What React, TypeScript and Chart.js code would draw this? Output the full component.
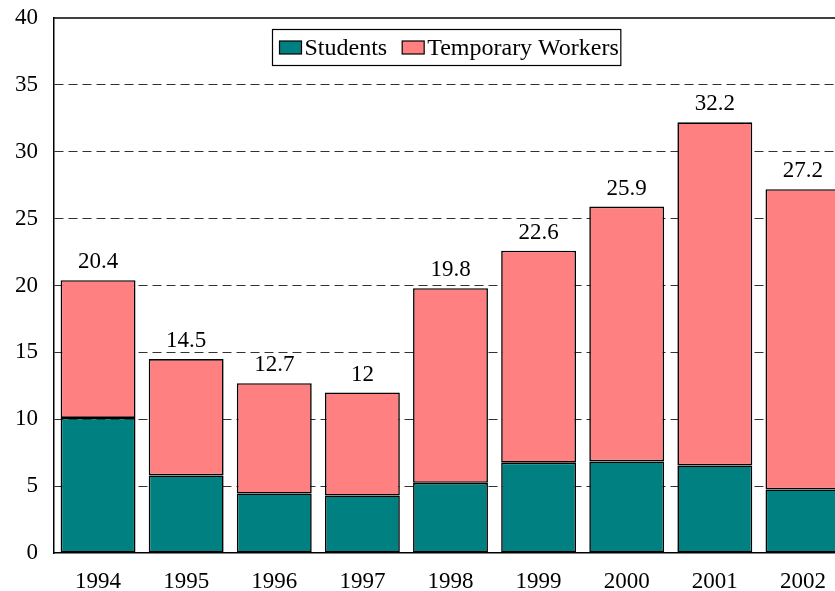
import React, { useEffect, useRef } from "react";
import { Chart, registerables } from "chart.js";

Chart.register(...registerables);

const years = ["1994", "1995", "1996", "1997", "1998", "1999", "2000", "2001", "2002"];
const totals = [20.4, 14.5, 12.7, 12, 19.8, 22.6, 25.9, 32.2, 27.2];
const students = [10.1, 5.8, 4.45, 4.3, 5.25, 6.75, 6.85, 6.55, 4.75];
const temporaryWorkers = totals.map((t, i) => Math.round((t - students[i]) * 100) / 100);
const yTicks = [0, 5, 10, 15, 20, 25, 30, 35, 40];

const FONT = "'Liberation Serif', 'Times New Roman', serif";
const FS = 23;
const LFS = 24;

const overlayPlugin = {
  id: "overlay",
  afterDatasetsDraw(chart: any) {
    const { ctx, chartArea } = chart;
    ctx.save();
    // top border
    ctx.strokeStyle = "#000";
    ctx.lineWidth = 1.5;
    ctx.beginPath();
    ctx.moveTo(chartArea.left, chartArea.top);
    ctx.lineTo(chartArea.right, chartArea.top);
    ctx.stroke();

    // total labels
    const lastMeta = chart.getDatasetMeta(chart.data.datasets.length - 1);
    ctx.font = `${FS}px ${FONT}`;
    ctx.fillStyle = "#000";
    ctx.textAlign = "center";
    ctx.textBaseline = "alphabetic";
    lastMeta.data.forEach((el: any, i: number) => {
      const sum = chart.data.datasets.reduce((s: number, d: any) => s + d.data[i], 0);
      const txt = String(Math.round(sum * 10) / 10);
      ctx.fillText(txt, el.x, el.y - 12);
    });

    // legend
    const items = chart.data.datasets.map((d: any) => ({ label: d.label, color: d.backgroundColor }));
    ctx.font = `${LFS}px ${FONT}`;
    const swW = 22, swH = 13, gapSw = 3, gapItem = 15, padL = 7, padR = 2;
    let width = padL + padR;
    items.forEach((it: any, i: number) => {
      width += swW + gapSw + ctx.measureText(it.label).width + (i < items.length - 1 ? gapItem : 0);
    });
    const boxH = 36;
    const cx = (chartArea.left + chartArea.right) / 2 - 4;
    const bx = Math.round(cx - width / 2) + 0.5;
    const by = chartArea.top + 11.5;
    ctx.fillStyle = "#fff";
    ctx.fillRect(bx, by, width, boxH);
    ctx.strokeStyle = "#000";
    ctx.lineWidth = 1.2;
    ctx.strokeRect(bx, by, width, boxH);
    let x = bx + padL;
    const midY = by + boxH / 2;
    items.forEach((it: any) => {
      ctx.fillStyle = it.color;
      ctx.fillRect(x, midY - swH / 2, swW, swH);
      ctx.strokeStyle = "#000";
      ctx.strokeRect(x, midY - swH / 2, swW, swH);
      x += swW + gapSw;
      ctx.fillStyle = "#000";
      ctx.textAlign = "left";
      ctx.textBaseline = "middle";
      ctx.fillText(it.label, x, midY + 1);
      x += ctx.measureText(it.label).width + gapItem;
    });
    ctx.restore();
  },
};

export default function App() {
  const ref = useRef<HTMLCanvasElement | null>(null);
  useEffect(() => {
    if (!ref.current) return;
    const chart = new Chart(ref.current, {
      type: "bar",
      data: {
        labels: years,
        datasets: [
          {
            label: "Students",
            data: students,
            backgroundColor: "#008080",
            borderColor: "#000",
            borderWidth: 1.6,
            borderSkipped: false,
          },
          {
            label: "Temporary Workers",
            data: temporaryWorkers,
            backgroundColor: "#FF8080",
            borderColor: "#000",
            borderWidth: 1.6,
            borderSkipped: false,
          },
        ],
      },
      options: {
        responsive: false,
        animation: false,
        devicePixelRatio: 1,
        layout: { padding: { top: 18, right: 1, left: 0, bottom: 0 } },
        plugins: {
          legend: { display: false },
          tooltip: { enabled: false },
        },
        datasets: { bar: { barPercentage: 0.85, categoryPercentage: 1 } },
        scales: {
          x: {
            stacked: true,
            grid: { display: false, drawTicks: false },
            border: { color: "#000", width: 1.5 },
            ticks: { color: "#000", font: { family: FONT, size: FS }, padding: 15, maxRotation: 0 },
            afterFit(scale: any) {
              scale.height = 38;
              scale.paddingLeft = 0;
              scale.paddingRight = 0;
            },
          },
          y: {
            stacked: true,
            min: 0,
            max: 40,
            afterBuildTicks(scale: any) {
              scale.ticks = yTicks.map((v) => ({ value: v }));
            },
            grid: {
              color: (c: any) => (c.tick && (c.tick.value === 0 || c.tick.value === 40) ? "rgba(0,0,0,0)" : "#333"),
              lineWidth: 1,
              drawTicks: false,
            },
            border: { color: "#000", width: 1.5, dash: [9, 5] as any },
            ticks: { color: "#000", font: { family: FONT, size: FS }, padding: 16 },
            afterFit(scale: any) {
              scale.width = 54;
              scale.paddingTop = 0;
              scale.paddingBottom = 0;
            },
          },
        },
      },
      plugins: [overlayPlugin],
    });
    return () => chart.destroy();
  }, []);
  return (
    <div style={{ position: "fixed", left: 0, top: 0, width: 848, height: 591, background: "#fff" }}>
      <canvas ref={ref} width={848} height={591} />
    </div>
  );
}
